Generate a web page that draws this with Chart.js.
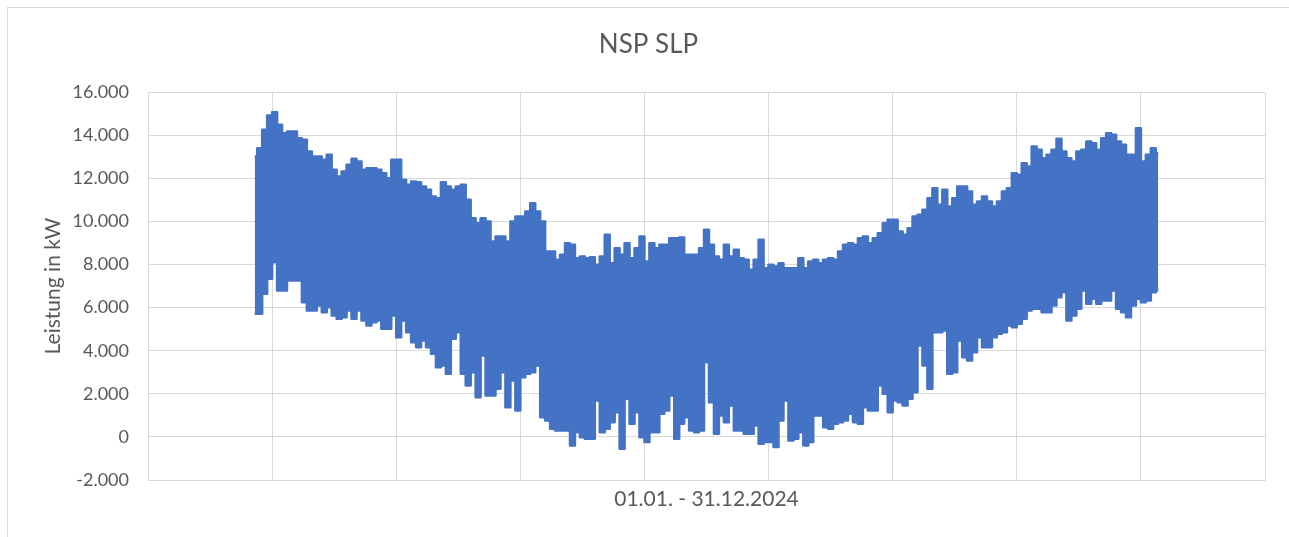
<!DOCTYPE html>
<html>
<head>
<meta charset="utf-8">
<script src="https://cdn.jsdelivr.net/npm/chart.js@4.4.1/dist/chart.umd.min.js"></script>
<style>
html,body{margin:0;padding:0;background:#fff;overflow:hidden;width:1289px;height:537px}
#frame{position:absolute;left:7px;top:7px;width:1320px;height:580px;border:1px solid #d9d9d9;box-sizing:border-box}
#wrap{position:absolute;left:0;top:0;width:1289px;height:537px}
</style>
</head>
<body>
<div id="frame"></div>
<div id="wrap"><canvas id="c" width="1289" height="537"></canvas></div>
<script>
// ---- text ----
const chartTitle = 'NSP SLP';
const yAxisTitle = 'Leistung in kW';
const xAxisTitle = '01.01. - 31.12.2024';

// ---- time axis (Excel date serials, 01.01.2024 = 45292) ----
const startSerial = 45292;
const windowDays = 2;          // each value = extreme of a 2-day window
const xAxisMin = 45250;
const xAxisMax = 45700;
const xAxisStep = 50;

// ---- y axis ticks (kW) ----
const yTickValues = [-2000, 0, 2000, 4000, 6000, 8000, 10000, 12000, 14000, 16000];

// ---- upper envelope of the load curve (kW) ----
const peakValues = [
13015,13402,14253,14918,15073,14485,14098,14176,14176,13866,
13789,13247,13015,13015,12861,13093,12397,12087,12319,12629,
12907,12783,12397,12474,12474,12397,12242,12010,12861,12861,
11933,11700,11855,11824,11623,11468,11159,11082,11824,11623,
11468,11623,11700,11004,10153,9921,10153,9999,9071,9303,
9303,9071,9999,10231,10231,10463,10850,10463,9999,8606,
8606,8220,8452,8993,8916,8297,8374,8297,8344,7988,
8374,9380,8065,8761,8452,8993,8297,8761,9303,8142,
8993,8761,8916,8916,9225,9225,9256,8452,8452,8452,
8761,9612,8916,8374,8220,8916,8374,8684,8297,8220,
7756,8220,9148,7833,7988,7910,8065,7833,7833,7833,
8297,7833,8142,8220,8065,8220,8297,8220,8606,8916,
8993,8916,9225,9303,8993,9225,9457,9921,10076,10076,
9535,9380,9689,10231,10308,10540,11082,11546,10772,11468,
10695,11082,11623,11623,11391,10772,10927,11159,10927,10695,
10927,11391,11546,12242,12165,12706,12551,13480,13325,12938,
13093,13325,13835,13247,12938,12783,13247,13325,13712,13634,
13325,13866,14098,14021,13712,13557,13093,13093,14330,12783,
13093,13402,13170
];

// ---- lower envelope of the load curve (kW) ----
const troughValues = [
5714,5714,6642,7338,8112,6797,6797,7261,7261,7261,
6255,5869,5869,6101,5791,6023,5636,5482,5559,5869,
5482,5869,5405,5172,5327,5405,5018,5018,5636,4631,
5405,4863,4399,4167,4476,4167,3857,3239,3316,2929,
4554,4863,2929,2388,3007,1846,3780,1924,1924,2233,
3007,1382,2620,1228,2775,2929,3007,3316,918,763,
377,299,299,299,-397,222,-10,-87,-87,1692,
222,377,686,1150,-552,1769,609,1150,-10,-242,
222,222,1073,1228,1924,-87,609,918,299,222,
299,3471,1614,145,995,686,1460,299,299,145,
145,531,-319,-242,-242,-474,763,1692,-165,-87,
222,-397,-242,995,995,454,377,609,686,763,
1073,686,609,1382,1228,1228,2388,2001,1150,1692,
1614,1460,1769,2078,4244,3316,2233,4863,4863,4940,
2929,3007,4476,3703,3548,3935,4631,4167,4167,4631,
4786,4863,5172,5095,5250,5482,5869,5946,5946,5791,
5791,6101,6487,6719,5405,5636,5946,6797,6178,6410,
6178,6333,6333,6797,5946,5791,5559,6101,6410,6255,
6333,6719,6797
];

// ---- styling ----
const lineColor = '#4472C4';
const gridColor = '#d9d9d9';
const textColor = '#595959';
const fontFamily = 'Lato, "Open Sans", sans-serif';

function fmtDE(v) {
  if (v === 0) return '0';
  const neg = v < 0;
  let s = Math.abs(Math.round(v)).toString();
  let out = '';
  while (s.length > 3) { out = '.' + s.slice(-3) + out; s = s.slice(0, -3); }
  out = s + out;
  return (neg ? '-' : '') + out;
}

const upperPts = peakValues.map((v, i) => ({ x: startSerial + windowDays * i + 1, y: v }));
const lowerPts = troughValues.map((v, i) => ({ x: startSerial + windowDays * i + 1, y: v }));

new Chart(document.getElementById('c'), {
  type: 'line',
  data: {
    datasets: [
      { label: 'NSP SLP max', data: upperPts, borderColor: lineColor, backgroundColor: lineColor,
        borderWidth: 2.5, pointRadius: 0, stepped: 'middle', fill: '+1', borderJoinStyle: 'round' },
      { label: 'NSP SLP min', data: lowerPts, borderColor: lineColor, backgroundColor: lineColor,
        borderWidth: 2.5, pointRadius: 0, stepped: 'middle', fill: false, borderJoinStyle: 'round' }
    ]
  },
  options: {
    responsive: false,
    animation: false,
    devicePixelRatio: 1,
    layout: { padding: { left: 32, right: 24, top: 0, bottom: 0 } },
    plugins: {
      legend: { display: false },
      tooltip: { enabled: false },
      title: {
        display: true, text: chartTitle, color: textColor,
        font: { family: fontFamily, size: 26, weight: 'normal' },
        padding: { top: 29, bottom: 32 }
      }
    },
    scales: {
      x: {
        type: 'linear', min: xAxisMin, max: xAxisMax,
        ticks: { display: false, stepSize: xAxisStep },
        grid: { color: gridColor, lineWidth: 1, drawTicks: false },
        border: { color: gridColor },
        title: { display: true, text: xAxisTitle, color: textColor,
                 font: { family: fontFamily, size: 21, weight: 'normal' },
                 padding: { top: 0, bottom: 25 } },
        afterFit: (s) => { s.height = 57; }
      },
      y: {
        type: 'linear', min: yTickValues[0], max: yTickValues[yTickValues.length - 1],
        afterBuildTicks: (s) => { s.ticks = yTickValues.map(v => ({ value: v })); },
        ticks: { color: textColor, font: { family: fontFamily, size: 18 }, padding: 19,
                 callback: (v) => fmtDE(v) },
        grid: { color: gridColor, lineWidth: 1, drawTicks: false },
        border: { color: gridColor },
        title: { display: true, text: yAxisTitle, color: textColor,
                 font: { family: fontFamily, size: 21, weight: 'normal' },
                 padding: { top: 9, bottom: 0 } },
        afterFit: (s) => { s.width = 116; }
      }
    }
  }
});
</script>
</body>
</html>
